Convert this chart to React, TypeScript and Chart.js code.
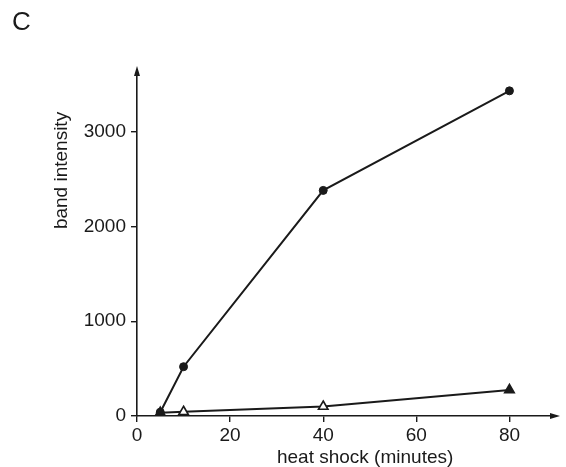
import React, { useEffect, useRef } from "react";
import { Chart, registerables } from "chart.js";

Chart.register(...registerables);

const panelLabel = "C";
const xTitle = "heat shock (minutes)";
const yTitle = "band intensity";
const minutes = [5, 10, 40, 80];
const circleValues = [40, 520, 2380, 3430];
const triangleValues = [35, 45, 100, 275];
const triangleFilled = [true, false, false, true];
const xTicks = [0, 20, 40, 60, 80];
const yTicks = [0, 1000, 2000, 3000];

const INK = "#1a1a1a";
const FONT = "'Liberation Sans', Arial, sans-serif";

const decorPlugin = {
  id: "decor",
  afterDraw(chart: any) {
    const ctx = chart.ctx;
    const xs = chart.scales.x;
    const ys = chart.scales.y;
    const area = chart.chartArea;
    ctx.save();
    ctx.fillStyle = INK;
    // arrows
    const ax = area.left;
    const ay = area.top;
    ctx.beginPath();
    ctx.moveTo(ax, ay - 4);
    ctx.lineTo(ax - 3, ay + 6);
    ctx.lineTo(ax + 3, ay + 6);
    ctx.closePath();
    ctx.fill();
    const bx = area.right;
    const by = area.bottom;
    ctx.beginPath();
    ctx.moveTo(bx + 4, by);
    ctx.lineTo(bx - 6, by - 3);
    ctx.lineTo(bx - 6, by + 3);
    ctx.closePath();
    ctx.fill();
    // panel label
    ctx.font = `26px ${FONT}`;
    ctx.textAlign = "left";
    ctx.textBaseline = "middle";
    ctx.fillText(panelLabel, 12, 23);
    // x title
    ctx.font = `19px ${FONT}`;
    ctx.textAlign = "center";
    ctx.textBaseline = "middle";
    ctx.fillText(xTitle, xs.getPixelForValue(49), by + 42);
    // y title
    ctx.translate(area.left - 75, ys.getPixelForValue(2590));
    ctx.rotate(-Math.PI / 2);
    ctx.fillText(yTitle, 0, 0);
    ctx.restore();
  },
};

export default function App() {
  const ref = useRef<HTMLCanvasElement>(null);
  useEffect(() => {
    document.body.style.margin = "0";
    const canvas = ref.current!;
    const chart = new Chart(canvas, {
      type: "line",
      data: {
        datasets: [
          {
            label: "triangles",
            data: minutes.map((m, i) => ({ x: m, y: triangleValues[i] })),
            borderColor: INK,
            borderWidth: 2,
            pointStyle: "triangle",
            pointRadius: 5.5,
            pointBackgroundColor: triangleFilled.map((f) => (f ? INK : "#ffffff")),
            pointBorderColor: INK,
            pointBorderWidth: 1.6,
          },
          {
            label: "circles",
            data: minutes.map((m, i) => ({ x: m, y: circleValues[i] })),
            borderColor: INK,
            borderWidth: 2,
            pointStyle: "circle",
            pointRadius: 4,
            pointBackgroundColor: INK,
            pointBorderColor: INK,
            pointBorderWidth: 1,
          },
        ],
      },
      options: {
        animation: false,
        responsive: false,
        layout: { padding: { left: 0, right: 10, top: 70, bottom: 0 } },
        plugins: { legend: { display: false }, tooltip: { enabled: false } },
        scales: {
          x: {
            type: "linear",
            min: 0,
            max: 90,
            afterFit: (s: any) => {
              s.height = 51;
            },
            afterBuildTicks: (s: any) => {
              s.ticks = xTicks.map((v) => ({ value: v }));
            },
            border: { display: true, color: INK, width: 1.6 },
            grid: {
              drawOnChartArea: false,
              drawTicks: true,
              tickLength: 6,
              color: INK,
              lineWidth: 1.4,
            },
            ticks: {
              color: INK,
              font: { family: FONT, size: 19 },
              padding: 2,
              maxRotation: 0,
              callback: (v: any) => String(v),
            },
          },
          y: {
            type: "linear",
            min: 0,
            max: 3650,
            afterFit: (s: any) => {
              s.width = 137;
            },
            afterBuildTicks: (s: any) => {
              s.ticks = yTicks.map((v) => ({ value: v }));
            },
            border: { display: true, color: INK, width: 1.6 },
            grid: {
              drawOnChartArea: false,
              drawTicks: true,
              tickLength: 6,
              color: INK,
              lineWidth: 1.4,
            },
            ticks: {
              color: INK,
              font: { family: FONT, size: 19 },
              padding: 5,
              callback: (v: any) => String(v),
            },
          },
        },
      },
      plugins: [decorPlugin],
    } as any);
    return () => chart.destroy();
  }, []);
  return <canvas ref={ref} width={566} height={467} style={{ display: "block" }} />;
}
